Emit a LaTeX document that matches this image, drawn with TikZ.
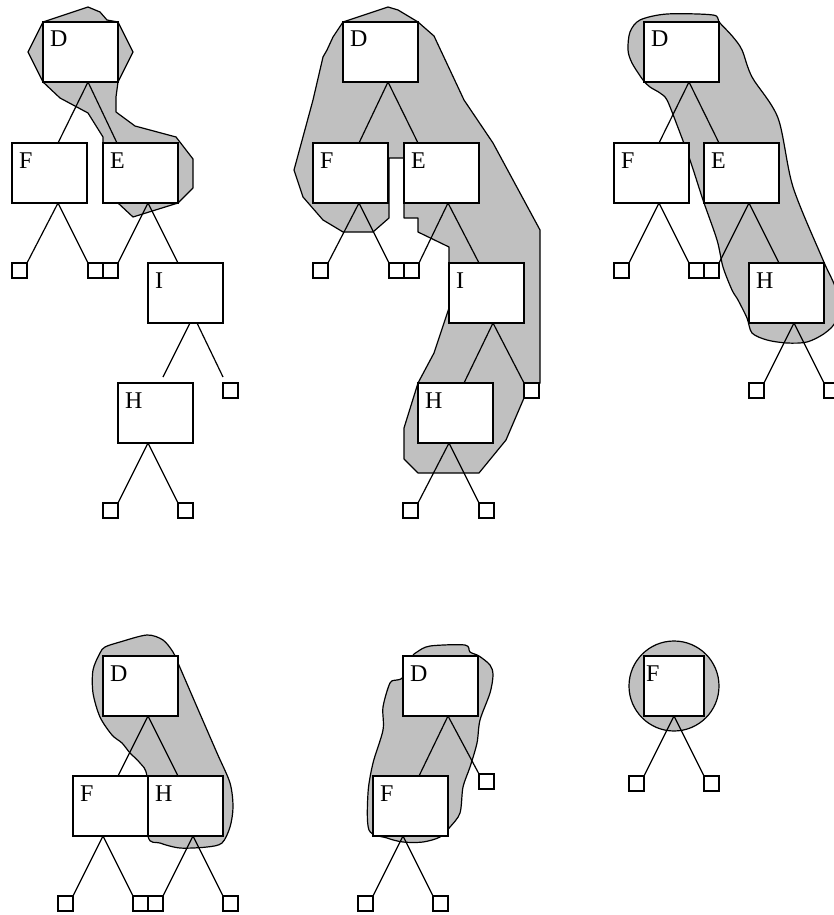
\documentclass[tikz,border=0pt]{standalone}
\usepackage{fontspec}
\setmainfont{Liberation Serif}
\usetikzlibrary{calc}
\definecolor{blobgray}{HTML}{C0C0C0}
\tikzset{
 box/.style={draw, fill=white, line width=1.2pt, minimum width=75pt, minimum height=60pt, inner sep=0pt, outer sep=0pt, anchor=north west},
 sqbox/.style={box, minimum width=60pt},
 leaf/.style={draw, fill=white, line width=1.2pt, minimum size=15pt, inner sep=0pt, outer sep=0pt, anchor=north west},
 lbl/.style={anchor=base west, inner sep=0pt, font=\fontsize{24}{27}\selectfont},
 edge/.style={line width=1.2pt},
 blob/.style={draw, fill=blobgray, line width=1.2pt, line join=round},
}
\begin{document}
\begin{tikzpicture}[x=1pt,y=-1pt]
\useasboundingbox (0,0) rectangle (833,915);
% ---------- blobs ----------
\path[blob] (88,7) -- (100,12) -- (107,20) -- (118,22) -- (133,52) -- (118,82) -- (116,97) -- (116,112) -- (135,126) -- (176,137) -- (193,159) -- (193,188) -- (178,203) -- (133,217) -- (118,203) -- (103,203) -- (103,137) -- (88,113) -- (60,98) -- (43,82) -- (28,52) -- (43,22) -- cycle;
\path[blob] (388,7) -- (343,22) -- (333,37) -- (327,50) -- (323,57) -- (313,100) -- (294,170) -- (303,197) -- (323,220) -- (343,232) -- (373,232) -- (389,218) -- (389,158) -- (404,158) -- (404,218) -- (418,218) -- (418,232) -- (449,247) -- (449,308) -- (434,353) -- (418,383) -- (404,428) -- (404,459) -- (418,473) -- (479,473) -- (506,440) -- (524,398) -- (540,383) -- (540,337) -- (540,230) -- (493,143) -- (464,100) -- (434,36) -- (418,22) -- (398,10) -- cycle;
\draw[blob] plot[smooth cycle, tension=0.5] coordinates {(640,20) (667,14) (713,15) (719,22) (733,37) (742,50) (752,77) (778,118) (793,187) (823,260) (836,290) (836,320) (825,333) (807,342) (787,343) (767,340) (752,333) (747,318) (738,300) (732,290) (723,267) (717,240) (703,200) (690,160) (677,125) (667,100) (660,93) (650,87) (643,80) (632,63) (628,50) (630,32)};
\draw[blob] plot[smooth cycle, tension=0.5] coordinates {(105,647) (120,642) (147,635) (163,640) (173,652) (178,663) (197,707) (217,753) (230,783) (233,807) (230,827) (222,843) (207,847) (180,848) (160,843) (148,836) (147,777) (140,763) (130,753) (122,743) (112,735) (100,717) (93,693) (93,670) (100,653)};
\draw[blob] plot[smooth cycle, tension=0.5] coordinates {(412,657) (417,652) (430,646) (465,645) (470,652) (479,656) (490,665) (493,675) (490,693) (480,720) (477,743) (470,767) (463,787) (460,813) (450,827) (440,837) (423,842) (403,842) (387,838) (369,830) (368,793) (373,763) (383,730) (383,707) (390,683) (397,680) (403,677)};
\draw[blob] (674,686) circle[radius=45];
% ---------- panel 1 ----------
\node[box] (aD) at (43,22) {};
\node[box] (aF) at (12,143) {};
\node[box] (aE) at (103,143) {};
\node[box] (aI) at (148,263) {};
\node[box] (aH) at (118,383) {};
\node[leaf] (al1) at (12,263) {};
\node[leaf] (al2) at (88,263) {};
\node[leaf] (al3) at (103,263) {};
\node[leaf] (al4) at (223,383) {};
\node[leaf] (al5) at (103,503) {};
\node[leaf] (al6) at (178,503) {};
\node[lbl] (aDt) at ($(aD.north west)+(7,25)$) {D};
\node[lbl] (aFt) at ($(aF.north west)+(7,25)$) {F};
\node[lbl] (aEt) at ($(aE.north west)+(7,25)$) {E};
\node[lbl] (aIt) at ($(aI.north west)+(7,25)$) {I};
\node[lbl] (aHt) at ($(aH.north west)+(7,25)$) {H};
\draw[edge] ($(aD.south west)+(45,0)$) -- ($(aF.north west)+(46,0)$);
\draw[edge] ($(aD.south west)+(45,0)$) -- ($(aE.north west)+(14,0)$);
\draw[edge] ($(aF.south west)+(46,0)$) -- (al1.north east);
\draw[edge] ($(aF.south west)+(46,0)$) -- (al2.north west);
\draw[edge] ($(aE.south west)+(45,0)$) -- (al3.north east);
\draw[edge] ($(aE.south west)+(45,0)$) -- ($(aI.north west)+(30,0)$);
\draw[edge] ($(aI.south west)+(42,0)$) -- ($(aH.north west)+(45,-6)$);
\draw[edge] ($(aI.south west)+(49,0)$) -- ($(al4.north west)+(0,-6)$);
\draw[edge] ($(aH.south west)+(30,0)$) -- (al5.north east);
\draw[edge] ($(aH.south west)+(30,0)$) -- (al6.north west);
% ---------- panel 2 ----------
\node[box] (bD) at (343,22) {};
\node[box] (bF) at (313,143) {};
\node[box] (bE) at (404,143) {};
\node[box] (bI) at (449,263) {};
\node[box] (bH) at (418,383) {};
\node[leaf] (bl1) at (313,263) {};
\node[leaf] (bl2) at (389,263) {};
\node[leaf] (bl3) at (404,263) {};
\node[leaf] (bl4) at (524,383) {};
\node[leaf] (bl5) at (403,503) {};
\node[leaf] (bl6) at (479,503) {};
\node[lbl] (bDt) at ($(bD.north west)+(7,25)$) {D};
\node[lbl] (bFt) at ($(bF.north west)+(7,25)$) {F};
\node[lbl] (bEt) at ($(bE.north west)+(7,25)$) {E};
\node[lbl] (bIt) at ($(bI.north west)+(7,25)$) {I};
\node[lbl] (bHt) at ($(bH.north west)+(7,25)$) {H};
\draw[edge] ($(bD.south west)+(45,0)$) -- ($(bF.north west)+(46,0)$);
\draw[edge] ($(bD.south west)+(45,0)$) -- ($(bE.north west)+(14,0)$);
\draw[edge] ($(bF.south west)+(46,0)$) -- (bl1.north east);
\draw[edge] ($(bF.south west)+(46,0)$) -- (bl2.north west);
\draw[edge] ($(bE.south west)+(44,0)$) -- (bl3.north east);
\draw[edge] ($(bE.south west)+(44,0)$) -- ($(bI.north west)+(30,0)$);
\draw[edge] ($(bI.south west)+(44,0)$) -- ($(bH.north west)+(46,0)$);
\draw[edge] ($(bI.south west)+(44,0)$) -- (bl4.north west);
\draw[edge] ($(bH.south west)+(31,0)$) -- (bl5.north east);
\draw[edge] ($(bH.south west)+(31,0)$) -- (bl6.north west);
% ---------- panel 3 ----------
\node[box] (cD) at (644,22) {};
\node[box] (cF) at (614,143) {};
\node[box] (cE) at (704,143) {};
\node[box] (cH) at (749,263) {};
\node[leaf] (cl1) at (614,263) {};
\node[leaf] (cl2) at (689,263) {};
\node[leaf] (cl3) at (704,263) {};
\node[leaf] (cl4) at (749,383) {};
\node[leaf] (cl5) at (824,383) {};
\node[lbl] (cDt) at ($(cD.north west)+(7,25)$) {D};
\node[lbl] (cFt) at ($(cF.north west)+(7,25)$) {F};
\node[lbl] (cEt) at ($(cE.north west)+(7,25)$) {E};
\node[lbl] (cHt) at ($(cH.north west)+(7,25)$) {H};
\draw[edge] ($(cD.south west)+(45,0)$) -- ($(cF.north west)+(45,0)$);
\draw[edge] ($(cD.south west)+(45,0)$) -- ($(cE.north west)+(15,0)$);
\draw[edge] ($(cF.south west)+(45,0)$) -- (cl1.north east);
\draw[edge] ($(cF.south west)+(45,0)$) -- (cl2.north west);
\draw[edge] ($(cE.south west)+(45,0)$) -- (cl3.north east);
\draw[edge] ($(cE.south west)+(45,0)$) -- ($(cH.north west)+(30,0)$);
\draw[edge] ($(cH.south west)+(45,0)$) -- (cl4.north east);
\draw[edge] ($(cH.south west)+(45,0)$) -- (cl5.north west);
% ---------- panel 4 ----------
\node[box] (dD) at (103,656) {};
\node[box] (dF) at (73,776) {};
\node[box] (dH) at (148,776) {};
\node[leaf] (dl1) at (58,896) {};
\node[leaf] (dl2) at (133,896) {};
\node[leaf] (dl3) at (148,896) {};
\node[leaf] (dl4) at (223,896) {};
\node[lbl] (dDt) at ($(dD.north west)+(7,25)$) {D};
\node[lbl] (dFt) at ($(dF.north west)+(7,25)$) {F};
\node[lbl] (dHt) at ($(dH.north west)+(7,25)$) {H};
\draw[edge] ($(dD.south west)+(45,0)$) -- ($(dF.north west)+(45,0)$);
\draw[edge] ($(dD.south west)+(45,0)$) -- ($(dH.north west)+(30,0)$);
\draw[edge] ($(dF.south west)+(30,0)$) -- (dl1.north east);
\draw[edge] ($(dF.south west)+(30,0)$) -- (dl2.north west);
\draw[edge] ($(dH.south west)+(45,0)$) -- (dl3.north east);
\draw[edge] ($(dH.south west)+(45,0)$) -- (dl4.north west);
% ---------- panel 5 ----------
\node[box] (eD) at (403,656) {};
\node[box] (eF) at (373,776) {};
\node[leaf] (el1) at (479,774) {};
\node[leaf] (el2) at (358,896) {};
\node[leaf] (el3) at (433,896) {};
\node[lbl] (eDt) at ($(eD.north west)+(7,25)$) {D};
\node[lbl] (eFt) at ($(eF.north west)+(7,25)$) {F};
\draw[edge] ($(eD.south west)+(45,0)$) -- ($(eF.north west)+(46,0)$);
\draw[edge] ($(eD.south west)+(45,0)$) -- (el1.north west);
\draw[edge] ($(eF.south west)+(30,0)$) -- (el2.north east);
\draw[edge] ($(eF.south west)+(30,0)$) -- (el3.north west);
% ---------- panel 6 ----------
\node[sqbox] (fF) at (644,656) {};
\node[leaf] (fl1) at (629,776) {};
\node[leaf] (fl2) at (704,776) {};
\node[lbl] (fFt) at ($(fF.north west)+(2,25)$) {F};
\draw[edge] ($(fF.south west)+(30,0)$) -- (fl1.north east);
\draw[edge] ($(fF.south west)+(30,0)$) -- (fl2.north west);
\end{tikzpicture}
\end{document}
